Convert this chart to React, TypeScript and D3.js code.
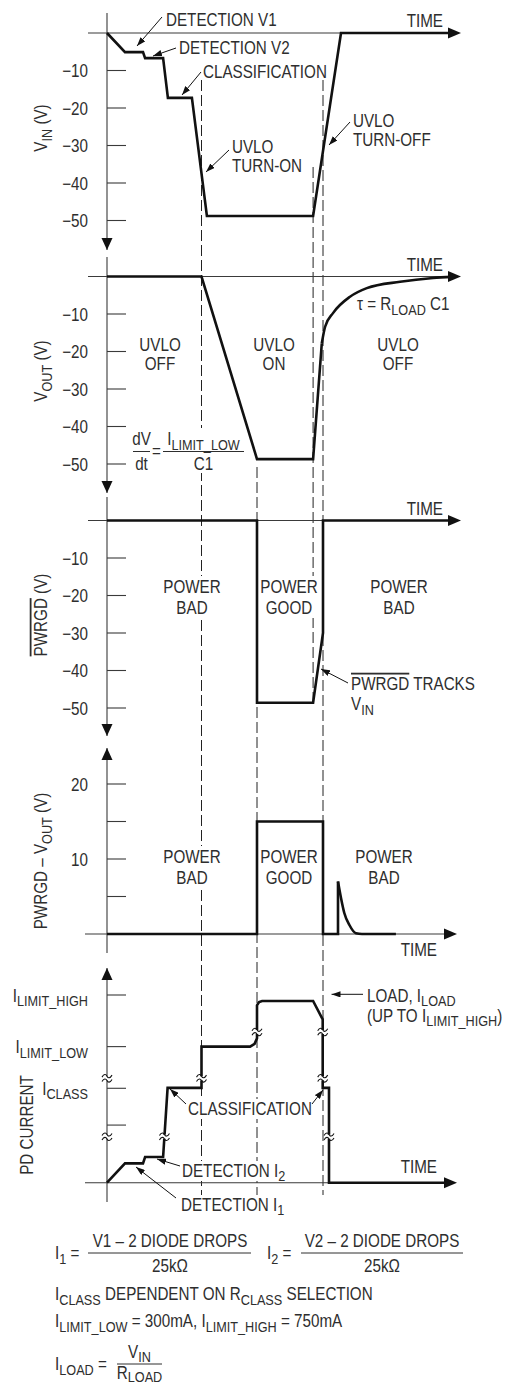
import React from 'react';
import * as d3 from 'd3';

// Liberation Sans squeezed horizontally stands in for the condensed Helvetica of the original
const FONT = '"Liberation Sans", Arial, sans-serif';
const SX = 0.845;
const INK = '#2e2e2e';
const FS = 18;
const SUB = 15;

// time is in arbitrary units, shared by every panel
const timeDomain = [0, 118];
const eventTimes = [31.5, 50, 68.7, 72];

const voltTicks = [-10, -20, -30, -40, -50];

const vinTime = [0, 6, 12, 12.7, 18.7, 20.3, 28.3, 33.3, 68.7, 78, 115];
const vinVolts = [0, -5.1, -5.1, -6.7, -6.7, -17.3, -17.3, -48.8, -48.8, 0, 0];

const voutTime = [0, 31.5, 50, 68.7, 71.6];
const voutVolts = [0, 0, -48.7, -48.7, -17.8];
const voutDecayTime = [71.6, 72.7, 75.4, 81, 86.6, 97.7, 108.7, 115];
const voutDecayVolts = [-17.8, -13.4, -9.7, -5.4, -3.1, -1.4, -0.4, -0.1];

const pwrgdTime = [0, 50, 50, 68.7, 72, 72, 115];
const pwrgdVolts = [0, 0, -48.6, -48.6, -30, 0, 0];

const diffTicks = [5, 10, 15, 20];
const diffTickLabels = ['', '10', '', '20'];
const diffTime = [0, 50, 50, 72, 72, 77, 77];
const diffVolts = [0, 0, 15, 15, 0, 0, 7];
const spikeTime = [77, 78, 79.1, 80.8, 83, 85, 96.3];
const spikeVolts = [7, 4.8, 2.8, 1.2, 0.1, 0, 0];

// PD current in nominal units (axis is broken, not to scale)
const pdTicks = [3.07, 5.03, 7.25, 10];
const pdTickLabels = ['', 'I_{CLASS}', 'I_{LIMIT_LOW}', 'I_{LIMIT_HIGH}'];
const pdTime = [0, 6, 12, 12.7, 18.7, 20.2, 31.5, 31.5, 47.7, 49.2, 50, 50, 50.7, 51.7, 68.7, 71.9, 71.9, 74, 74, 113];
const pdLevel = [0, 1.03, 1.03, 1.37, 1.37, 5.05, 5.05, 7.25, 7.25, 7.4, 7.7, 9.45, 9.62, 9.68, 9.68, 8.7, 5.05, 5.05, 0, 0];
const breakTime = [0, 0, 19.15, 31.5, 50, 71.9, 71.9, 74];
const breakLevel = [2.45, 5.56, 2.45, 5.56, 8.03, 8.03, 5.56, 2.45];

const x = d3.scaleLinear().domain(timeDomain).range([107, 461]);
const yVin = d3.scaleLinear().domain([0, -50]).range([33, 220.5]);
const yVout = d3.scaleLinear().domain([0, -50]).range([276.5, 464]);
const yPwr = d3.scaleLinear().domain([0, -50]).range([520.5, 708]);
const yDiff = d3.scaleLinear().domain([0, 20]).range([934, 784]);
const yPd = d3.scaleLinear().domain([0, 10]).range([1182.7, 995]);

function trace(ts: number[], vs: number[], y: d3.ScaleLinear<number, number>, curve: d3.CurveFactory = d3.curveLinear) {
  return d3.line<number>()
    .x(t => x(t))
    .y((_, i) => y(vs[i]))
    .curve(curve)(ts) || '';
}

// "_{..}" = subscript, "!{..}" = overline
function Rich({ s, sub = SUB, shift = 4.5 }: { s: string; sub?: number; shift?: number }) {
  const parts = s.split(/(_\{[^}]*\}|!\{[^}]*\})/).filter(Boolean);
  let down = false;
  return (
    <>
      {parts.map((p, i) => {
        if (p.startsWith('_{')) {
          down = true;
          return <tspan key={i} dy={shift} fontSize={sub}>{p.slice(2, -1)}</tspan>;
        }
        const over = p.startsWith('!{');
        const txt = over ? p.slice(2, -1) : p;
        const dy = down ? -shift : undefined;
        down = false;
        return <tspan key={i} dy={dy} style={over ? { textDecoration: 'overline' } : undefined}>{txt}</tspan>;
      })}
    </>
  );
}

// "\n" splits a label into lines of height lh
function T({ x, y, s, anchor = 'start', rotate = false, shift = 4.5, lh = 20 }: { x: number; y: number; s: string; anchor?: string; rotate?: boolean; shift?: number; lh?: number }) {
  const tf = rotate
    ? `translate(${x},${y}) rotate(-90) scale(${SX},1)`
    : `translate(${x},${y}) scale(${SX},1)`;
  const lines = s.split('\n');
  return (
    <text transform={tf} textAnchor={rotate ? 'middle' : anchor}>
      {lines.map((ln, i) => {
        const prevDown = i > 0 && /_\{[^}]*\}$/.test(lines[i - 1]);
        return (
          <tspan key={i} x={0} dy={i === 0 ? 0 : lh - (prevDown ? shift : 0)}>
            <Rich s={ln} shift={shift} />
          </tspan>
        );
      })}
    </text>
  );
}

function Axes({ y0, top, bottom, up = false, left, right }: { y0: number; top: number; bottom: number; up?: boolean; left: number; right: number }) {
  const ax = x(0);
  return (
    <g>
      <line x1={ax} x2={ax} y1={top} y2={bottom} stroke="#3a3a3a" strokeWidth={1.1} />
      <line x1={left} x2={right - 8} y1={y0} y2={y0} stroke="#3a3a3a" strokeWidth={1.1} />
      <path d={`M${right},${y0}L${right - 13},${y0 - 5.5}L${right - 13},${y0 + 5.5}Z`} fill="#111" />
      {up
        ? <path d={`M${ax},${top}L${ax - 5.5},${top + 12}L${ax + 5.5},${top + 12}Z`} fill="#111" />
        : <path d={`M${ax},${bottom}L${ax - 5.5},${bottom - 12}L${ax + 5.5},${bottom - 12}Z`} fill="#111" />}
    </g>
  );
}

function Ticks({ values, labels, y }: { values: number[]; labels: string[]; y: d3.ScaleLinear<number, number> }) {
  const ax = x(0);
  return (
    <g>
      {values.map((v, i) => (
        <g key={i}>
          <line x1={ax} x2={ax + 19} y1={y(v)} y2={y(v)} stroke="#3a3a3a" strokeWidth={1.1} />
          {labels[i] && <T x={88} y={y(v) + 6.6} s={labels[i]} anchor="end" />}
        </g>
      ))}
    </g>
  );
}

function Break({ cx, cy }: { cx: number; cy: number }) {
  const tilde = (yy: number) => `M${cx - 5},${yy + 1}C${cx - 3},${yy - 2.5} ${cx - 1},${yy - 2} ${cx},${yy}C${cx + 1},${yy + 2} ${cx + 3},${yy + 2.5} ${cx + 5},${yy - 1}`;
  return (
    <g>
      <rect x={cx - 4} y={cy - 2} width={8} height={4} fill="#fff" />
      <path d={tilde(cy - 2.2)} fill="none" stroke="#111" strokeWidth={1.1} />
      <path d={tilde(cy + 2.2)} fill="none" stroke="#111" strokeWidth={1.1} />
    </g>
  );
}

function Arrow({ x1, y1, x2, y2 }: { x1: number; y1: number; x2: number; y2: number }) {
  return <line x1={x1} y1={y1} x2={x2} y2={y2} stroke="#111" strokeWidth={1} markerEnd="url(#ah)" />;
}

function Frac({ cx, top, bottom, y, x1, x2, below = 18.5 }: { cx: number; top: string; bottom: string; y: number; x1: number; x2: number; below?: number }) {
  return (
    <g>
      <T x={cx} y={y - 6.5} s={top} anchor="middle" />
      <line x1={x1} x2={x2} y1={y} y2={y} stroke={INK} strokeWidth={1} />
      <T x={cx} y={y + below} s={bottom} anchor="middle" shift={3} />
    </g>
  );
}

const dashExtents: [number, number][] = [[80, 1195], [467, 1195], [167, 703], [80, 1195]];
const knockouts: [number, number, number, number][] = [
  [130, 428, 118, 45],
  [162, 576, 60, 42], [260, 576, 58, 42],
  [162, 846, 60, 42], [260, 846, 58, 42],
  [186, 1099, 128, 20], [180, 1161, 106, 20],
];

export default function App() {
  const lineStyle = { fill: 'none', stroke: '#111', strokeWidth: 2.6, strokeLinejoin: 'miter' as const };
  return (
    <svg width={511} height={1385} style={{ position: 'absolute', left: 0, top: 0, display: 'block', background: '#fff' }}
      fontFamily={FONT} fontSize={FS} fill={INK}>
      <defs>
        <marker id="ah" viewBox="0 0 10 7" refX={10} refY={3.5} markerWidth={9} markerHeight={6.3}
          markerUnits="userSpaceOnUse" orient="auto">
          <path d="M0,0L10,3.5L0,7Z" fill="#111" />
        </marker>
      </defs>

      {/* event markers */}
      {eventTimes.map((t, i) => (
        <line key={i} x1={x(t)} x2={x(t)} y1={dashExtents[i][0]} y2={dashExtents[i][1]}
          stroke="#222" strokeWidth={1} strokeDasharray="11,4" />
      ))}
      {knockouts.map(([kx, ky, kw, kh], i) => <rect key={i} x={kx} y={ky} width={kw} height={kh} fill="#fff" />)}

      {/* VIN */}
      <Axes y0={yVin(0)} top={13} bottom={250} left={88} right={461} />
      <Ticks values={voltTicks} labels={voltTicks.map(v => `−${-v}`)} y={yVin} />
      <path d={trace(vinTime, vinVolts, yVin)} {...lineStyle} />
      <T x={47} y={128} s="V_{IN} (V)" rotate />
      <T x={443} y={27} s="TIME" anchor="end" />
      <T x={166} y={25.5} s="DETECTION V1" />
      <Arrow x1={162} y1={17} x2={137} y2={46} />
      <T x={179} y={54} s="DETECTION V2" />
      <Arrow x1={176} y1={48} x2={153} y2={56} />
      <T x={203} y={78} s="CLASSIFICATION" />
      <Arrow x1={201} y1={72} x2={182} y2={95} />
      <T x={232} y={152.5} s={'UVLO\nTURN-ON'} />
      <Arrow x1={229} y1={150} x2={206} y2={172} />
      <T x={353} y={126.5} s={'UVLO\nTURN-OFF'} />
      <Arrow x1={350} y1={122} x2={329} y2={145} />

      {/* VOUT */}
      <Axes y0={yVout(0)} top={257} bottom={493} left={88} right={461} />
      <Ticks values={voltTicks} labels={voltTicks.map(v => `−${-v}`)} y={yVout} />
      <path d={trace(voutTime, voutVolts, yVout)} {...lineStyle} />
      <path d={trace(voutDecayTime, voutDecayVolts, yVout, d3.curveMonotoneX)} {...lineStyle} />
      <T x={47} y={371} s="V_{OUT} (V)" rotate />
      <T x={443} y={271} s="TIME" anchor="end" />
      <T x={160} y={350.5} s={'UVLO\nOFF'} anchor="middle" />
      <T x={274} y={350.5} s={'UVLO\nON'} anchor="middle" />
      <T x={398} y={350.5} s={'UVLO\nOFF'} anchor="middle" />
      <T x={357} y={310} s="τ = R_{LOAD} C1" />
      <Frac cx={141.5} top="dV" bottom="dt" y={451.5} x1={133} x2={150} />
      <T x={156.5} y={457} s="=" anchor="middle" />
      <Frac cx={203.5} top="I_{LIMIT_LOW}" bottom="C1" y={451.5} x1={163} x2={244} />

      {/* PWRGD */}
      <Axes y0={yPwr(0)} top={497} bottom={736} left={88} right={461} />
      <Ticks values={voltTicks} labels={voltTicks.map(v => `−${-v}`)} y={yPwr} />
      <path d={trace(pwrgdTime, pwrgdVolts, yPwr)} {...lineStyle} />
      <T x={47} y={615} s="!{PWRGD} (V)" rotate />
      <T x={443} y={515} s="TIME" anchor="end" />
      <T x={192} y={593} s={'POWER\nBAD'} anchor="middle" lh={21} />
      <T x={289} y={593} s={'POWER\nGOOD'} anchor="middle" lh={21} />
      <T x={399} y={593} s={'POWER\nBAD'} anchor="middle" lh={21} />
      <T x={351} y={690} s={'!{PWRGD} TRACKS\nV_{IN}'} lh={20.5} />
      <Arrow x1={348} y1={683} x2={321} y2={669} />

      {/* PWRGD - VOUT */}
      <Axes y0={yDiff(0)} top={748} bottom={953} up left={85} right={457} />
      <Ticks values={diffTicks} labels={diffTickLabels} y={yDiff} />
      <path d={trace(diffTime, diffVolts, yDiff)} {...lineStyle} />
      <path d={trace(spikeTime, spikeVolts, yDiff, d3.curveMonotoneX)} {...lineStyle} />
      <T x={47} y={861} s="PWRGD – V_{OUT} (V)" rotate />
      <T x={437} y={956} s="TIME" anchor="end" />
      <T x={192} y={863} s={'POWER\nBAD'} anchor="middle" lh={21} />
      <T x={289} y={863} s={'POWER\nGOOD'} anchor="middle" lh={21} />
      <T x={384} y={863} s={'POWER\nBAD'} anchor="middle" lh={21} />

      {/* PD current */}
      <Axes y0={yPd(0)} top={968} bottom={1202} up left={85} right={457} />
      <Ticks values={pdTicks} labels={pdTickLabels} y={yPd} />
      <path d={trace(pdTime, pdLevel, yPd)} {...lineStyle} />
      {breakTime.map((t, i) => <Break key={i} cx={x(t)} cy={yPd(breakLevel[i])} />)}
      <T x={33} y={1125} s="PD CURRENT" rotate />
      <T x={437} y={1173} s="TIME" anchor="end" />
      <T x={367} y={1001.7} s={'LOAD, I_{LOAD}\n(UP TO I_{LIMIT_HIGH})'} lh={20} />
      <Arrow x1={363} y1={994.3} x2={331.5} y2={994.3} />
      <T x={188} y={1115} s="CLASSIFICATION" />
      <Arrow x1={186} y1={1104} x2={170} y2={1089} />
      <Arrow x1={312} y1={1104} x2={323} y2={1090} />
      <T x={182} y={1176.7} s="DETECTION I_{2}" />
      <Arrow x1={180} y1={1166} x2={157} y2={1159} />
      <T x={181} y={1210.5} s="DETECTION I_{1}" />
      <Arrow x1={176} y1={1198} x2={136} y2={1167} />

      {/* notes */}
      <T x={55} y={1259} s="I_{1} =" />
      <Frac cx={170} top="V1 – 2 DIODE DROPS" bottom="25kΩ" y={1253} x1={88} x2={251} />
      <T x={267} y={1259} s="I_{2} =" />
      <Frac cx={382} top="V2 – 2 DIODE DROPS" bottom="25kΩ" y={1253} x1={301} x2={463} />
      <T x={55} y={1300} s="I_{CLASS} DEPENDENT ON R_{CLASS} SELECTION" />
      <T x={55} y={1327} s="I_{LIMIT_LOW} = 300mA, I_{LIMIT_HIGH} = 750mA" />
      <T x={55} y={1370} s="I_{LOAD} =" />
      <Frac cx={139.5} top="V_{IN}" bottom="R_{LOAD}" y={1364} x1={117} x2={162} below={15} />
    </svg>
  );
}
